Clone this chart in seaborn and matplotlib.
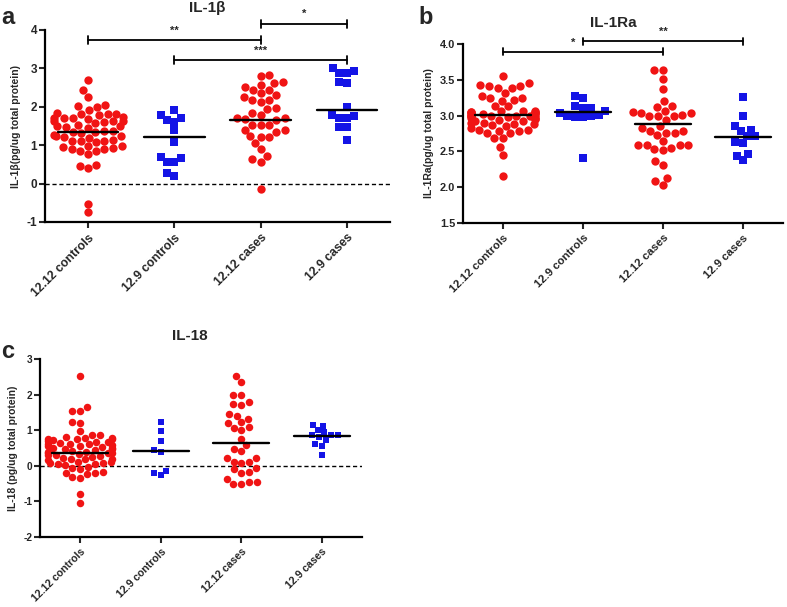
import numpy as np
import pandas as pd
import matplotlib
matplotlib.use('Agg')
import matplotlib.pyplot as plt
import seaborn as sns

groups = ['12.12 controls', '12.9 controls', '12.12 cases', '12.9 cases']

# panel a: IL-1beta
a_ctrl_1212 = [2.70, 2.44, 2.26, 2.05, 2.02, 2.00, 1.92, 1.84, 1.82, 1.80, 1.82,
               1.78, 1.74, 1.72, 1.70, 1.72, 1.68, 1.64, 1.62, 1.60, 1.62, 1.58,
               1.52, 1.50, 1.48, 1.50, 1.46, 1.38, 1.36, 1.34, 1.35, 1.32, 1.26,
               1.24, 1.22, 1.25, 1.20, 1.14, 1.12, 1.10, 1.12, 1.08, 0.98, 0.96,
               0.97, 0.92, 0.90, 0.90, 0.86, 0.84, 0.76, 0.48, 0.47, 0.40,
               -0.52, -0.74]
a_ctrl_129 = [1.92, 1.79, 1.70, 1.66, 1.61, 1.40, 1.09, 0.70, 0.67, 0.57, 0.55,
              0.27, 0.21]
a_case_1212 = [2.83, 2.80, 2.65, 2.61, 2.57, 2.52, 2.44, 2.44, 2.35, 2.31, 2.26,
               2.18, 2.18, 2.13, 1.96, 1.93, 1.83, 1.79, 1.70, 1.70, 1.67, 1.66,
               1.53, 1.53, 1.53, 1.40, 1.40, 1.35, 1.24, 1.22, 1.22, 1.05, 0.89,
               0.72, 0.63, 0.57, -0.13]
a_case_129 = [3.01, 2.94, 2.89, 2.88, 2.65, 2.61, 1.99, 1.78, 1.76, 1.70, 1.70,
              1.48, 1.47, 1.14]
a_lines = [1.35, 1.22, 1.65, 1.92]
# (from, to, height, label, label x)
a_sig = [(0, 2, 3.74, '**', 1.0), (2, 3, 4.16, '*', 2.5), (1, 3, 3.22, '***', 2.0)]

# panel b: IL-1Ra
b_ctrl_1212 = [3.55, 3.45, 3.43, 3.41, 3.41, 3.39, 3.39, 3.32, 3.27, 3.25, 3.24,
               3.22, 3.21, 3.14, 3.13, 3.07, 3.06, 3.06, 3.05, 3.05, 3.05, 3.04,
               3.04, 3.03, 3.02, 3.01, 3.01, 3.00, 3.00, 3.00, 2.99, 2.99, 2.98,
               2.98, 2.96, 2.95, 2.95, 2.94, 2.93, 2.92, 2.90, 2.89, 2.88, 2.88,
               2.87, 2.86, 2.82, 2.80, 2.80, 2.79, 2.78, 2.76, 2.75, 2.69, 2.69,
               2.56, 2.45, 2.15]
b_ctrl_129 = [3.27, 3.25, 3.13, 3.11, 3.11, 3.06, 3.04, 3.01, 3.00, 2.99, 2.98,
              2.98, 2.41]
b_case_1212 = [3.64, 3.64, 3.51, 3.37, 3.20, 3.13, 3.12, 3.06, 3.05, 3.04, 3.04,
               3.01, 2.99, 2.99, 2.99, 2.94, 2.85, 2.83, 2.78, 2.78, 2.76, 2.76,
               2.73, 2.64, 2.59, 2.59, 2.59, 2.59, 2.55, 2.53, 2.52, 2.36, 2.31,
               2.13, 2.08, 2.03]
b_case_129 = [3.26, 2.99, 2.85, 2.80, 2.78, 2.71, 2.71, 2.63, 2.62, 2.46, 2.44,
              2.38]
b_lines = [3.01, 3.05, 2.88, 2.70]
b_sig = [(0, 2, 3.89, '*', 0.88), (1, 3, 4.04, '**', 2.0)]

# panel c: IL-18
c_ctrl_1212 = [2.51, 1.64, 1.53, 1.53, 1.22, 1.20, 0.97, 0.87, 0.86, 0.80, 0.78,
               0.78, 0.76, 0.75, 0.74, 0.72, 0.70, 0.68, 0.66, 0.64, 0.62, 0.60,
               0.60, 0.58, 0.56, 0.55, 0.52, 0.50, 0.50, 0.48, 0.46, 0.45, 0.42,
               0.40, 0.38, 0.37, 0.36, 0.35, 0.32, 0.30, 0.30, 0.28, 0.25, 0.22,
               0.20, 0.20, 0.18, 0.15, 0.12, 0.10, 0.08, 0.07, 0.06, 0.04, 0.02,
               -0.02, -0.07, -0.10, -0.17, -0.19, -0.20, -0.23, -0.31, -0.34,
               -0.78, -1.04]
c_ctrl_129 = [1.22, 0.97, 0.69, 0.45, 0.38, -0.14, -0.20, -0.27]
c_case_1212 = [2.51, 2.35, 2.00, 2.00, 1.79, 1.74, 1.72, 1.45, 1.41, 1.31, 1.22,
               1.20, 1.08, 1.06, 1.01, 0.75, 0.58, 0.47, 0.41, 0.22, 0.22, 0.12,
               0.10, 0.08, -0.05, -0.10, -0.17, -0.20, -0.37, -0.45, -0.45,
               -0.51, -0.52]
c_case_129 = [1.16, 1.13, 1.01, 0.94, 0.87, 0.87, 0.86, 0.81, 0.73, 0.62, 0.57,
              0.31]
c_lines = [0.37, 0.41, 0.65, 0.84]

RED = '#f01414'
BLUE = '#1414e6'


def draw_panel(ax, vals, lines, ylim, yticks, fmt, ylabel, sig, zero_line,
               msize, fs):
    red = pd.DataFrame({'group': [groups[0]] * len(vals[0]) + [groups[2]] * len(vals[2]),
                        'value': vals[0] + vals[2]})
    blue = pd.DataFrame({'group': [groups[1]] * len(vals[1]) + [groups[3]] * len(vals[3]),
                         'value': vals[1] + vals[3]})
    if zero_line:
        ax.axhline(0, color='black', lw=1.0, ls=(0, (3, 2)), zorder=1)
    sns.swarmplot(data=red, x='group', y='value', order=groups, color=RED,
                  marker='o', size=msize, linewidth=0, ax=ax, zorder=3)
    sns.swarmplot(data=blue, x='group', y='value', order=groups, color=BLUE,
                  marker='s', size=msize * 0.9, linewidth=0, ax=ax, zorder=3)
    for i, m in enumerate(lines):
        ax.plot([i - 0.35, i + 0.35], [m, m], color='black', lw=1.7, zorder=4)
    cap = (ylim[1] - ylim[0]) * 0.02
    for x0, x1, y, lab, tx in sig:
        ax.plot([x0, x1], [y, y], color='black', lw=1.3, clip_on=False)
        for xx in (x0, x1):
            ax.plot([xx, xx], [y - cap, y + cap], color='black', lw=1.3, clip_on=False)
        ax.text(tx, y + cap * 1.2, lab, ha='center', va='bottom',
                fontsize=8, fontweight='bold')
    ax.set_xlim(-0.5, 3.5)
    ax.set_ylim(*ylim)
    ax.set_yticks(yticks)
    ax.set_yticklabels([fmt.format(t) for t in yticks])
    ax.set_xlabel('')
    ax.set_ylabel(ylabel, fontsize=7.5, fontweight='bold', labelpad=4)
    ax.set_xticks(range(4))
    ax.set_xticklabels(groups, rotation=45, ha='right', rotation_mode='anchor')
    ax.tick_params(axis='y', direction='out', length=4, width=1.5,
                   labelsize=fs - 0.3, pad=1.5)
    ax.tick_params(axis='x', direction='out', length=4, width=1.5,
                   labelsize=fs, pad=3)
    for side in ('top', 'right'):
        ax.spines[side].set_visible(False)
    for side in ('left', 'bottom'):
        ax.spines[side].set_linewidth(1.6)
        ax.spines[side].set_color('black')


def main():
    sns.set_style('ticks')
    plt.rcParams['font.family'] = ['Liberation Sans', 'DejaVu Sans']
    plt.rcParams['font.weight'] = 'bold'
    plt.rcParams['axes.unicode_minus'] = False

    fig = plt.figure(figsize=(7.87, 6.07), dpi=100)
    ax_a = fig.add_axes([45 / 787, 1 - 222 / 607, 345 / 787, 192 / 607])
    ax_b = fig.add_axes([463 / 787, 1 - 223 / 607, 320 / 787, 179 / 607])
    ax_c = fig.add_axes([40 / 787, 1 - 537 / 607, 322 / 787, 178 / 607])

    draw_panel(ax_a, [a_ctrl_1212, a_ctrl_129, a_case_1212, a_case_129], a_lines,
               (-1, 4), [-1, 0, 1, 2, 3, 4], '{:.0f}',
               'IL-1\u03b2(pg/ug total protein)', a_sig, True, 6.0, 8.8)
    draw_panel(ax_b, [b_ctrl_1212, b_ctrl_129, b_case_1212, b_case_129], b_lines,
               (1.5, 4.0), [1.5, 2.0, 2.5, 3.0, 3.5, 4.0], '{:.1f}',
               'IL-1Ra(pg/ug total protein)', b_sig, False, 6.0, 8.2)
    draw_panel(ax_c, [c_ctrl_1212, c_ctrl_129, c_case_1212, c_case_129], c_lines,
               (-2, 3), [-2, -1, 0, 1, 2, 3], '{:.0f}',
               'IL-18 (pg/ug total protein)', [], True, 5.4, 7.6)

    fig.text(207 / 787, 1 - 8 / 607, 'IL-1\u03b2', ha='center', va='center',
             fontsize=11, fontweight='bold')
    fig.text(613 / 787, 1 - 23 / 607, 'IL-1Ra', ha='center', va='center',
             fontsize=11, fontweight='bold')
    fig.text(190 / 787, 1 - 336 / 607, 'IL-18', ha='center', va='center',
             fontsize=11, fontweight='bold')
    fig.text(8 / 787, 1 - 18 / 607, 'a', ha='center', va='center',
             fontsize=17, fontweight='bold')
    fig.text(426 / 787, 1 - 17 / 607, 'b', ha='center', va='center',
             fontsize=17, fontweight='bold')
    fig.text(8 / 787, 1 - 351 / 607, 'c', ha='center', va='center',
             fontsize=17, fontweight='bold')

    fig.savefig('out.png', dpi=100)


if __name__ == '__main__':
    main()
